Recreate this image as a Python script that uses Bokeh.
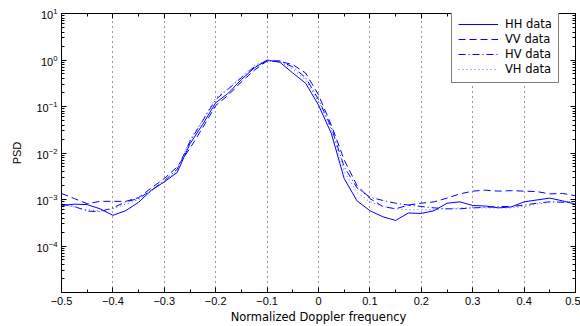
import numpy as np
from bokeh.plotting import figure
from bokeh.models import (LinearAxis, LogAxis, FixedTicker, Range1d, Legend,
                          LegendItem, ColumnDataSource, CustomJSTickFormatter)
from bokeh.embed import file_html
from bokeh.resources import INLINE

# Normalized Doppler frequency samples
freq = [-0.500, -0.475, -0.450, -0.425, -0.400, -0.375, -0.350, -0.325, -0.300, -0.275,
        -0.250, -0.225, -0.200, -0.175, -0.150, -0.125, -0.100, -0.075, -0.050, -0.025,
        0.000, 0.025, 0.050, 0.075, 0.100, 0.125, 0.150, 0.175, 0.200, 0.225,
        0.250, 0.275, 0.300, 0.325, 0.350, 0.375, 0.400, 0.425, 0.450, 0.475, 0.500]

# PSD values, read as log10 from the picture
hh_log10 = [-3.13, -3.10, -3.11, -3.20, -3.34, -3.24, -3.06, -2.80, -2.62, -2.42,
            -1.80, -1.38, -0.92, -0.71, -0.42, -0.17, 0.00, -0.05, -0.28, -0.50,
            -0.97, -1.58, -2.55, -3.03, -3.24, -3.37, -3.45, -3.29, -3.30, -3.24,
            -3.08, -3.05, -3.13, -3.14, -3.18, -3.16, -3.05, -3.01, -2.97, -3.03, -3.10]
vv_log10 = [-2.87, -2.98, -3.09, -3.04, -3.04, -3.04, -2.96, -2.75, -2.55, -2.30,
            -1.90, -1.45, -0.98, -0.75, -0.47, -0.22, -0.02, -0.03, -0.10, -0.28,
            -0.75, -1.40, -2.15, -2.70, -2.98, -3.15, -3.20, -3.12, -3.08, -3.05,
            -2.97, -2.88, -2.82, -2.80, -2.82, -2.81, -2.82, -2.83, -2.88, -2.87, -2.92]
hv_log10 = [-3.10, -3.15, -3.25, -3.26, -3.18, -3.05, -2.98, -2.80, -2.60, -2.35,
            -1.75, -1.30, -0.85, -0.62, -0.38, -0.15, -0.02, -0.02, -0.15, -0.38,
            -0.85, -1.45, -2.30, -2.75, -2.95, -3.02, -3.08, -3.12, -3.15, -3.18,
            -3.20, -3.20, -3.18, -3.17, -3.15, -3.15, -3.12, -3.08, -3.05, -3.06, -3.04]
vh_log10 = [-3.12, -3.16, -3.22, -3.25, -3.20, -3.10, -3.00, -2.82, -2.62, -2.38,
            -1.72, -1.28, -0.82, -0.60, -0.35, -0.12, -0.01, -0.03, -0.20, -0.42,
            -0.90, -1.50, -2.40, -2.85, -3.05, -3.15, -3.20, -3.22, -3.22, -3.22,
            -3.20, -3.18, -3.18, -3.18, -3.18, -3.18, -3.15, -3.10, -3.06, -3.05, -3.04]

series_labels = ["HH data", "VV data", "HV data", "VH data"]
x_ticks = [-0.5, -0.4, -0.3, -0.2, -0.1, 0.0, 0.1, 0.2, 0.3, 0.4, 0.5]
y_ticks = [1e-4, 1e-3, 1e-2, 1e-1, 1e0, 1e1]

src = ColumnDataSource(dict(
    f=freq,
    hh=10 ** np.array(hh_log10),
    vv=10 ** np.array(vv_log10),
    hv=10 ** np.array(hv_log10),
    vh=10 ** np.array(vh_log10),
))

FONT = "Liberation Sans"
WIDE = "DejaVu Sans"

p = figure(width=580, height=326, y_axis_type="log",
           x_range=Range1d(-0.5, 0.5), y_range=Range1d(1e-5, 10),
           output_backend="svg", toolbar_location=None,
           min_border_left=61, min_border_right=5,
           min_border_top=13, min_border_bottom=34)
p.background_fill_color = "white"
p.border_fill_color = "white"
p.outline_line_color = "black"

x_minor = [-0.45 + 0.1 * i for i in range(10)]
y_minor = [m * 10.0 ** e for e in range(-5, 1) for m in range(2, 10)]
xticker = FixedTicker(ticks=x_ticks, minor_ticks=x_minor)
yticker = FixedTicker(ticks=y_ticks, minor_ticks=y_minor)

def style_axis(ax):
    ax.major_tick_in = 5
    ax.major_tick_out = 0
    ax.minor_tick_in = 3
    ax.minor_tick_out = 0
    ax.axis_line_color = "black"
    ax.axis_line_width = 1
    ax.major_tick_line_color = "black"
    ax.minor_tick_line_color = "black"
    ax.major_label_text_font = FONT
    ax.major_label_text_font_size = "11px"
    ax.major_label_text_color = "black"
    ax.axis_label_text_font = FONT
    ax.axis_label_text_font_size = "11px"
    ax.axis_label_text_font_style = "normal"
    ax.axis_label_text_color = "black"

xa = p.xaxis[0]
xa.ticker = xticker
xa.axis_label = "Normalized Doppler frequency"
style_axis(xa)
xa.axis_label_text_font = WIDE
xa.axis_label_text_font_size = "11.5px"
xa.major_label_standoff = 4
xa.axis_label_standoff = 2

ya = p.yaxis[0]
ya.ticker = yticker
ya.axis_label = "PSD"
style_axis(ya)
ya.major_label_standoff = 4
ya.axis_label_standoff = 10

blank = CustomJSTickFormatter(code="return ''")
top = LinearAxis(ticker=xticker, formatter=blank)
style_axis(top)
top.major_label_standoff = 0
p.add_layout(top, "above")
right = LogAxis(ticker=yticker, formatter=blank)
style_axis(right)
right.major_label_standoff = 0
p.add_layout(right, "right")

p.xgrid.ticker = FixedTicker(ticks=x_ticks)
p.xgrid.grid_line_color = "#333333"
p.xgrid.grid_line_dash = "1 4"
p.xgrid.grid_line_width = 1
p.ygrid.visible = False

BLUE = "#0000ff"
r_hh = p.line("f", "hh", source=src, line_color=BLUE, line_width=1)
r_vv = p.line("f", "vv", source=src, line_color=BLUE, line_width=1, line_dash="7 4")
r_hv = p.line("f", "hv", source=src, line_color=BLUE, line_width=1, line_dash="7 3 1 3")
r_vh = p.line("f", "vh", source=src, line_color="#5555ff", line_width=1, line_dash="1 3")

legend = Legend(items=[LegendItem(label=series_labels[0], renderers=[r_hh]),
                       LegendItem(label=series_labels[1], renderers=[r_vv]),
                       LegendItem(label=series_labels[2], renderers=[r_hv]),
                       LegendItem(label=series_labels[3], renderers=[r_vh])],
                location=(390, 209), margin=0, padding=6, spacing=1,
                glyph_width=40, glyph_height=14, label_height=14,
                label_standoff=7, label_text_font=WIDE,
                label_text_font_size="11.5px", label_text_color="black",
                border_line_color="black", border_line_width=1.5,
                background_fill_color="white", background_fill_alpha=1)
p.add_layout(legend, "center")

open("out.html", "w").write(file_html(p, INLINE))
